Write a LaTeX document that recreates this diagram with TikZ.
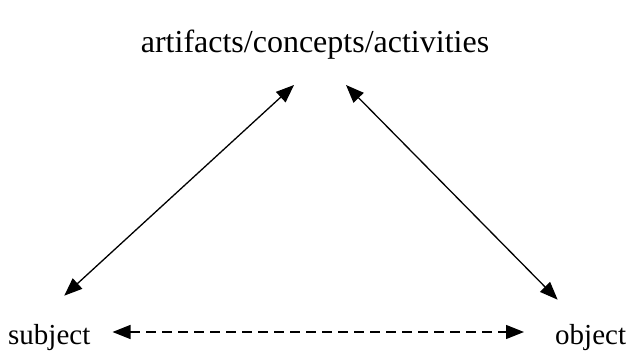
\documentclass[tikz,border=0pt]{standalone}
\usepackage{fontspec}
\setmainfont{Liberation Serif}
\usepackage{tikz}
\usetikzlibrary{arrows.meta, positioning}
\tikzset{
    textnode/.style  = {draw=none, fill=none, rectangle, inner sep = 0em,
      font=\fontsize{29}{34}\selectfont},
    bigtextnode/.style  = {textnode, font=\fontsize{32}{38}\selectfont},
    connect/.style = {black, line width=1.3pt, {Triangle[length=18pt,width=14pt]}-{Triangle[length=18pt,width=14pt]}},
    dashconnect/.style = {connect, dash pattern=on 10pt off 6pt}
}

\begin{document}
\begin{tikzpicture}[x=1pt, y=-1pt]
    \useasboundingbox (0,0) rectangle (629,352);
    \node [bigtextnode, anchor=base, name=Tools] at (315,53) {artifacts/concepts/activities};
    \node [textnode, anchor=base west, name=Subject] at (8,345) {subject};
    \node [textnode, anchor=base west, name=Object] at (555,345) {object};

    \draw [connect] ([xshift=-21pt, yshift=-25pt]Tools.south) -- ([xshift=15pt, yshift=29pt]Subject.north);
    \draw [connect] ([xshift=31pt, yshift=-25pt]Tools.south) -- ([xshift=-33pt, yshift=25pt]Object.north);
    \draw [dashconnect] ([xshift=22pt, yshift=13pt]Subject.base east) -- ([xshift=-31pt, yshift=13pt]Object.base west);
\end{tikzpicture}
\end{document}
